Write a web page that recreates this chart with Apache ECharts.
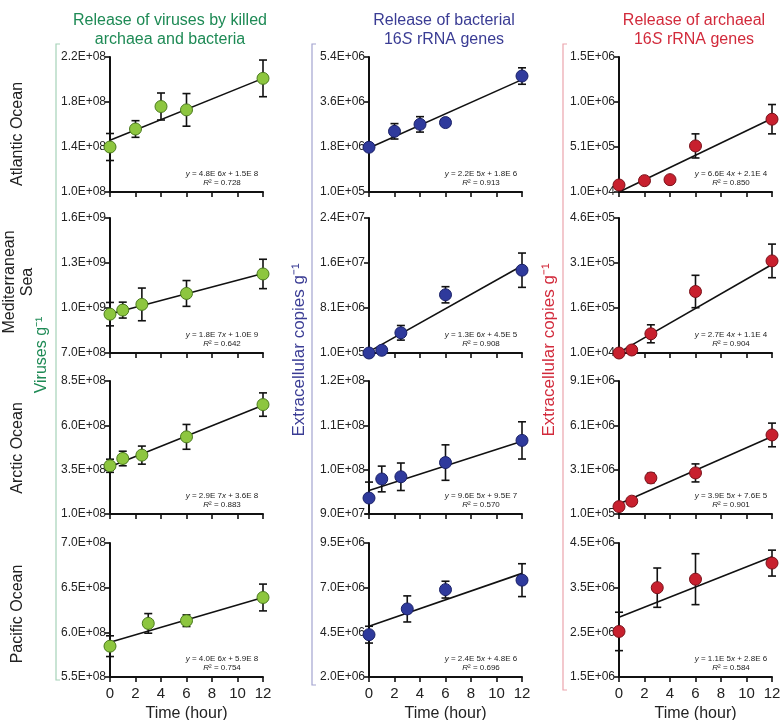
<!DOCTYPE html>
<html>
<head>
<meta charset="utf-8">
<script src="https://cdn.jsdelivr.net/npm/echarts@6/dist/echarts.min.js"></script>
<style>
  html, body { margin: 0; background: #fff; }
  #chart { width: 780px; height: 720px; }
</style>
</head>
<body>
<div id="chart"></div>
<script>
// sampling times (hour) for each ocean (rows)
const hours = [
  [0, 2, 4, 6, 12],      // Atlantic
  [0, 1, 2.5, 6, 12],    // Mediterranean
  [0, 1, 2.5, 6, 12],    // Arctic
  [0, 3, 6, 12]          // Pacific
]
const oceans = ['Atlantic Ocean', 'Mediterranean\nSea', 'Arctic Ocean', 'Pacific Ocean']

// column 1: viruses g-1
const virusMean = [
  [1.40e8, 1.56e8, 1.76e8, 1.73e8, 2.01e8],
  [9.59e8, 9.86e8, 1.024e9, 1.097e9, 1.227e9],
  [3.72e8, 4.13e8, 4.32e8, 5.35e8, 7.17e8],
  [5.845e8, 6.10e8, 6.13e8, 6.39e8]
]
const virusErr = [
  [1.2e7, 7.4e6, 1.2e7, 1.45e7, 1.63e7],
  [7.8e7, 5.3e7, 1.09e8, 8.6e7, 9.8e7],
  [3.7e7, 4.1e7, 5.1e7, 7.0e7, 6.6e7],
  [1.16e7, 1.1e7, 6.5e6, 1.5e7]
]
// column 2: bacterial 16S copies g-1
const bactMean = [
  [1.84e6, 2.46e6, 2.73e6, 2.80e6, 4.61e6],
  [1.0e5, 5.8e5, 3.69e6, 1.045e7, 1.482e7],
  [9.36e7, 9.79e7, 9.84e7, 1.016e8, 1.066e8],
  [4.37e6, 5.81e6, 6.89e6, 7.42e6]
]
const bactErr = [
  [1.5e5, 3.0e5, 3.0e5, 1.0e5, 3.2e5],
  [0, 0, 1.3e6, 1.44e6, 3.05e6],
  [3.6e6, 2.9e6, 3.1e6, 4.0e6, 4.2e6],
  [4.7e5, 7.3e5, 4.7e5, 9.2e5]
]
// column 3: archaeal 16S copies g-1
const archMean = [
  [8.8e4, 1.36e5, 1.47e5, 5.22e5, 8.19e5],
  [1.0e4, 2.0e4, 7.4e4, 2.15e5, 3.17e5],
  [6.0e5, 9.7e5, 2.54e6, 2.88e6, 5.45e6],
  [2.52e6, 3.50e6, 3.69e6, 4.05e6]
]
const archErr = [
  [0, 2.0e4, 0, 1.34e5, 1.63e5],
  [0, 0, 3.0e4, 5.4e4, 5.6e4],
  [0, 0, 3.2e5, 6.1e5, 8.0e5],
  [4.3e5, 4.4e5, 5.7e5, 2.9e5]
]

// regression line ends (value at 0 h and at 12 h)
const virusFit = [[1.46e8, 2.01e8], [9.6e8, 1.23e9], [3.66e8, 7.13e8], [5.89e8, 6.39e8]]
const bactFit = [[1.81e6, 4.47e6], [3.4e5, 1.56e7], [9.53e7, 1.064e8], [4.84e6, 7.8e6]]
const archFit = [[1.0e4, 8.27e5], [1.2e4, 3.05e5], [7.8e5, 5.34e6], [2.84e6, 4.19e6]]

// equation texts
const virusEq = [['4.8E 6', '1.5E 8', '0.728'], ['1.8E 7', '1.0E 9', '0.642'], ['2.9E 7', '3.6E 8', '0.883'], ['4.0E 6', '5.9E 8', '0.754']]
const bactEq = [['2.2E 5', '1.8E 6', '0.913'], ['1.3E 6', '4.5E 5', '0.908'], ['9.6E 5', '9.5E 7', '0.570'], ['2.4E 5', '4.8E 6', '0.696']]
const archEq = [['6.6E 4', '2.1E 4', '0.850'], ['2.7E 4', '1.1E 4', '0.904'], ['3.9E 5', '7.6E 5', '0.901'], ['1.1E 5', '2.8E 6', '0.584']]

// y ticks (value, label)
const virusTicks = [[1.0e8, 1.4e8, 1.8e8, 2.2e8], [7.0e8, 1.0e9, 1.3e9, 1.6e9], [1.0e8, 3.5e8, 6.0e8, 8.5e8], [5.5e8, 6.0e8, 6.5e8, 7.0e8]]
const virusTickLabels = [['1.0E+08', '1.4E+08', '1.8E+08', '2.2E+08'], ['7.0E+08', '1.0E+09', '1.3E+09', '1.6E+09'], ['1.0E+08', '3.5E+08', '6.0E+08', '8.5E+08'], ['5.5E+08', '6.0E+08', '6.5E+08', '7.0E+08']]
const bactTicks = [[1.0e5, 1.85e6, 3.6e6, 5.35e6], [1.0e5, 8.1e6, 1.61e7, 2.41e7], [9.0e7, 1.0e8, 1.1e8, 1.2e8], [2.0e6, 4.5e6, 7.0e6, 9.5e6]]
const bactTickLabels = [['1.0E+05', '1.8E+06', '3.6E+06', '5.4E+06'], ['1.0E+05', '8.1E+06', '1.6E+07', '2.4E+07'], ['9.0E+07', '1.0E+08', '1.1E+08', '1.2E+08'], ['2.0E+06', '4.5E+06', '7.0E+06', '9.5E+06']]
const archTicks = [[1.0e4, 5.1e5, 1.01e6, 1.51e6], [1.0e4, 1.6e5, 3.1e5, 4.6e5], [1.0e5, 3.1e6, 6.1e6, 9.1e6], [1.5e6, 2.5e6, 3.5e6, 4.5e6]]
const archTickLabels = [['1.0E+04', '5.1E+05', '1.0E+06', '1.5E+06'], ['1.0E+04', '1.6E+05', '3.1E+05', '4.6E+05'], ['1.0E+05', '3.1E+06', '6.1E+06', '9.1E+06'], ['1.5E+06', '2.5E+06', '3.5E+06', '4.5E+06']]

const columns = [
  { mean: virusMean, err: virusErr, fit: virusFit, eq: virusEq, ticks: virusTicks, labels: virusTickLabels,
    fill: '#8dc63f', border: '#4a7a1c', color: '#1e8a55', light: '#a6d2b8' },
  { mean: bactMean, err: bactErr, fit: bactFit, eq: bactEq, ticks: bactTicks, labels: bactTickLabels,
    fill: '#2f3a9c', border: '#1a2168', color: '#3a3c94', light: '#a3a4d0' },
  { mean: archMean, err: archErr, fit: archFit, eq: archEq, ticks: archTicks, labels: archTickLabels,
    fill: '#c8202e', border: '#7a1019', color: '#d22a3b', light: '#eba5ad' }
]

const FONT = 'Liberation Sans, Arial, sans-serif'
const colLeft = [110, 369, 619]
const plotW = 153
const rowTop = [57, 218, 381, 543]
const rowH = [135, 135, 133, 134]

const chart = echarts.init(document.getElementById('chart'))

const grid = [], xAxis = [], yAxis = [], series = [], graphic = []

// error bar drawer
const renderErr = (params, api) => {
  const e = api.value(2)
  if (!e) return
  const x = api.value(0), y = api.value(1)
  const top = api.coord([x, y + e])
  const bot = api.coord([x, y - e])
  const cap = 4
  const st = { stroke: '#111', lineWidth: 1.6 }
  return {
    type: 'group',
    children: [
      { type: 'line', shape: { x1: top[0], y1: top[1], x2: bot[0], y2: bot[1] }, style: st },
      { type: 'line', shape: { x1: top[0] - cap, y1: top[1], x2: top[0] + cap, y2: top[1] }, style: st },
      { type: 'line', shape: { x1: bot[0] - cap, y1: bot[1], x2: bot[0] + cap, y2: bot[1] }, style: st }
    ]
  }
}

for (let r = 0; r < 4; r++) {
  for (let c = 0; c < 3; c++) {
    const col = columns[c]
    const idx = r * 3 + c
    const ticks = col.ticks[r]
    const labels = col.labels[r]
    grid.push({ left: colLeft[c], top: rowTop[r], width: plotW, height: rowH[r], outerBoundsMode: 'none' })
    xAxis.push({
      gridIndex: idx, type: 'value', min: 0, max: 12, interval: 2,
      axisLine: { show: true, onZero: false, lineStyle: { color: '#111', width: 2 } },
      axisTick: { show: true, length: 5, lineStyle: { color: '#111', width: 1.6 } },
      axisLabel: { show: r === 3, fontSize: 15, color: '#222', margin: 9, fontFamily: FONT },
      splitLine: { show: false },
      name: r === 3 ? 'Time (hour)' : '',
      nameLocation: 'middle', nameGap: 29,
      nameTextStyle: { fontSize: 16, color: '#222', fontFamily: FONT }
    })
    yAxis.push({
      gridIndex: idx, type: 'value', min: ticks[0], max: ticks[3],
      axisLine: { show: true, onZero: false, lineStyle: { color: '#111', width: 2 } },
      axisTick: { show: true, length: 5, customValues: ticks, lineStyle: { color: '#111', width: 1.6 } },
      axisLabel: {
        customValues: ticks, fontSize: 12, color: '#222', margin: 4, fontFamily: FONT,
        formatter: v => {
          const i = ticks.findIndex(t => Math.abs(t - v) < (ticks[3] - ticks[0]) * 1e-6)
          return i >= 0 ? labels[i] : ''
        }
      },
      splitLine: { show: false }
    })
    const xs = hours[r]
    series.push({
      type: 'custom', xAxisIndex: idx, yAxisIndex: idx, z: 1, silent: true,
      renderItem: renderErr,
      data: xs.map((h, i) => [h, col.mean[r][i], col.err[r][i]])
    })
    series.push({
      type: 'line', xAxisIndex: idx, yAxisIndex: idx, z: 2, silent: true,
      symbol: 'none', lineStyle: { color: '#111', width: 1.6 },
      data: [[0, col.fit[r][0]], [12, col.fit[r][1]]]
    })
    series.push({
      type: 'scatter', xAxisIndex: idx, yAxisIndex: idx, z: 3, clip: false,
      symbolSize: 12,
      itemStyle: { color: col.fill, borderColor: col.border, borderWidth: 1, opacity: 1 },
      data: xs.map((h, i) => [h, col.mean[r][i]])
    })
    // equation + R2
    const eq = col.eq[r]
    graphic.push({
      type: 'text', x: colLeft[c] + plotW - 41, y: rowTop[r] + rowH[r] - 14,
      style: {
        text: '{i|y} = ' + eq[0] + '{i|x} + ' + eq[1] + '\n{i|R}² = ' + eq[2],
        rich: { i: { fontStyle: 'italic', fontSize: 8, fill: '#222', fontFamily: FONT } },
        fontSize: 8, fill: '#222', fontFamily: FONT, align: 'center', verticalAlign: 'middle', lineHeight: 9
      }
    })
  }
}

// row labels (oceans)
const rowMid = [134, 282, 448, 614]
oceans.forEach((name, r) => {
  graphic.push({
    type: 'text', x: r === 1 ? 19 : 18, y: rowMid[r], rotation: Math.PI / 2,
    style: { text: name, fontSize: 16, fill: '#222', fontFamily: FONT, align: 'center', verticalAlign: 'middle', lineHeight: 18 }
  })
})

// column titles
const titles = [
  'Release of viruses by killed\narchaea and bacteria',
  'Release of bacterial\n16{s|S} rRNA genes',
  'Release of archaeal\n16{s|S} rRNA genes'
]
const titleX = [170, 444, 694]
titles.forEach((t, c) => {
  graphic.push({
    type: 'text', x: titleX[c], y: 30,
    style: {
      text: t, fontSize: 16, fill: columns[c].color, fontFamily: FONT, align: 'center', verticalAlign: 'middle', lineHeight: 19,
      rich: { s: { fontStyle: 'italic', fontSize: 16, fill: columns[c].color, fontFamily: FONT } }
    }
  })
})

// brackets + y titles
const bracketX = [56, 312, 563]
const bracketBottom = [680, 685, 690]
const yTitles = ['Viruses g⁻¹', 'Extracellular copies g⁻¹', 'Extracellular copies g⁻¹']
const yTitleX = [42, 299, 549]
const yTitleY = [355, 350, 350]
const yTitleSize = [16, 17, 17]
for (let c = 0; c < 3; c++) {
  const bx = bracketX[c]
  graphic.push({
    type: 'polyline',
    shape: { points: [[bx + 4, 44], [bx, 44], [bx, bracketBottom[c]], [bx + 4, bracketBottom[c]]] },
    style: { stroke: columns[c].light, lineWidth: 1.2, fill: null }
  })
  graphic.push({
    type: 'text', x: yTitleX[c], y: yTitleY[c], rotation: Math.PI / 2,
    style: { text: yTitles[c], fontSize: yTitleSize[c], fill: columns[c].color, fontFamily: FONT, align: 'center', verticalAlign: 'middle' }
  })
}

chart.setOption({
  backgroundColor: '#fff',
  animation: false,
  grid, xAxis, yAxis, series, graphic
})
</script>
</body>
</html>
